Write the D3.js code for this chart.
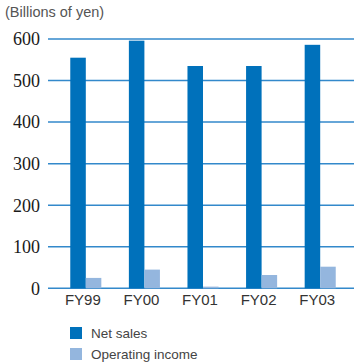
<!DOCTYPE html>
<html>
<head>
<meta charset="UTF-8">
<title>Net sales and operating income (FY99-FY03)</title>
<script src="https://cdn.jsdelivr.net/npm/d3@7"></script>
</head>
<body style="margin:0;background:#fff">
<script>
// 数据
var years = ["FY99", "FY00", "FY01", "FY02", "FY03"];
var netSales = [555, 596, 535, 535, 586];
var operatingIncome = [25, 45, 4, 32, 52];
var seriesNames = ["Net sales", "Operating income"];
var seriesColors = ["#0071bb", "#94b6de"];
var yTicks = [0, 100, 200, 300, 400, 500, 600];

var width = 354, height = 363;

var svg = d3.select("body").append("svg")
    .attr("width", width)
    .attr("height", height)
    .style("display", "block");

// 刻度
var y = d3.scaleLinear().domain([0, 600]).range([288.3, 39]);
var x0 = d3.scaleBand().domain(years).range([56.5, 349.5]).paddingInner(0.47).paddingOuter(0.235);
var x1 = d3.scaleBand().domain(seriesNames).range([0, x0.bandwidth()]);

// 网格线
svg.append("g")
    .selectAll("line")
    .data(yTicks)
    .enter().append("line")
    .attr("x1", 48).attr("x2", width)
    .attr("y1", function (d) { return y(d); })
    .attr("y2", function (d) { return y(d); })
    .attr("stroke", "#3389cb")
    .attr("stroke-width", 1.5);

// y 轴文字 (衬线体)
svg.append("g")
    .selectAll("text")
    .data(yTicks)
    .enter().append("text")
    .attr("x", 40)
    .attr("y", function (d) { return y(d); })
    .attr("dy", "0.35em")
    .attr("text-anchor", "end")
    .attr("font-family", "Liberation Serif")
    .attr("font-size", 18)
    .attr("fill", "#1a1a1a")
    .text(function (d) { return d; });

// 单位
svg.append("text")
    .attr("x", 5).attr("y", 17)
    .attr("font-family", "Liberation Sans")
    .attr("font-size", 14.5)
    .attr("fill", "#555")
    .text("(Billions of yen)");

// 柱子
var rows = years.map(function (yr, i) {
    return { year: yr, vals: [netSales[i], operatingIncome[i]] };
});
var groups = svg.append("g").selectAll("g")
    .data(rows)
    .enter().append("g")
    .attr("transform", function (d) { return "translate(" + x0(d.year) + ",0)"; });
groups.selectAll("rect")
    .data(function (d) { return d.vals.map(function (v, k) { return { k: k, v: v }; }); })
    .enter().append("rect")
    .attr("x", function (d) { return x1(seriesNames[d.k]); })
    .attr("width", x1.bandwidth())
    .attr("y", function (d) { return y(d.v); })
    .attr("height", function (d) { return y(0) - y(d.v); })
    .attr("fill", function (d) { return seriesColors[d.k]; });

// x 轴文字
var xAxis = d3.axisBottom(x0).tickSize(0).tickPadding(0);
var gx = svg.append("g").attr("transform", "translate(-3,294)").call(xAxis);
gx.select(".domain").remove();
gx.attr("font-family", "Liberation Sans").attr("font-size", 15);
gx.selectAll("text").attr("fill", "#333");

// 图例
var legend = svg.append("g").selectAll("g")
    .data(seriesNames)
    .enter().append("g")
    .attr("transform", function (d, i) { return "translate(70," + (327 + i * 21) + ")"; });
legend.append("rect")
    .attr("width", 12).attr("height", 12)
    .attr("fill", function (d, i) { return seriesColors[i]; });
legend.append("text")
    .attr("x", 21).attr("y", 11)
    .attr("font-family", "Liberation Sans")
    .attr("font-size", 13.5)
    .attr("fill", "#444")
    .text(function (d) { return d; });
</script>
</body>
</html>
